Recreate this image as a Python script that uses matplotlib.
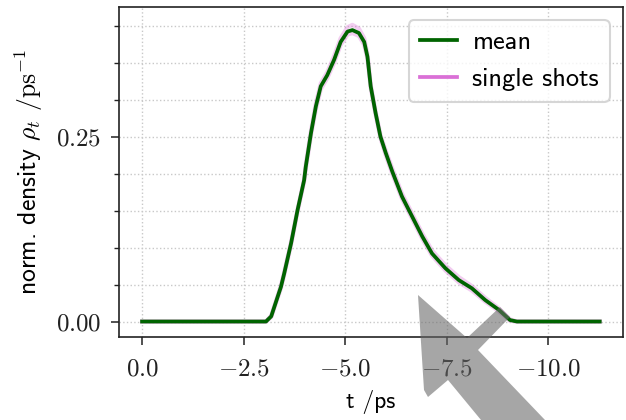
import matplotlib
matplotlib.use('Agg')
import matplotlib.pyplot as plt
from matplotlib.lines import Line2D
from matplotlib.patches import Polygon
from matplotlib.ticker import MultipleLocator, FormatStrFormatter

plt.rcParams['font.family'] = ['cmss10']
plt.rcParams['mathtext.fontset'] = 'cm'
plt.rcParams['axes.formatter.use_mathtext'] = True

# time axis (ps) and normalized density
t_ps = [0.0, -3.05, -3.18, -3.42, -3.50, -3.67, -3.83, -3.99, -4.03, -4.16,
        -4.28, -4.40, -4.56, -4.73, -4.89, -5.06, -5.18, -5.34, -5.47, -5.55,
        -5.63, -5.75, -5.87, -6.00, -6.16, -6.40, -6.65, -6.90, -7.14, -7.47,
        -7.80, -8.12, -8.45, -8.78, -9.06, -9.23, -11.27]
mean_rho = [0.0, 0.0, 0.007, 0.047, 0.065, 0.106, 0.151, 0.191, 0.209, 0.255,
            0.291, 0.318, 0.333, 0.354, 0.378, 0.392, 0.394, 0.390, 0.378, 0.358,
            0.318, 0.282, 0.250, 0.228, 0.203, 0.169, 0.142, 0.115, 0.092, 0.072,
            0.056, 0.045, 0.029, 0.016, 0.002, 0.0, 0.0]
shot_a = [0.0, 0.0, 0.008, 0.049, 0.067, 0.108, 0.152, 0.192, 0.212, 0.258,
          0.295, 0.322, 0.337, 0.359, 0.383, 0.398, 0.401, 0.396, 0.383, 0.361,
          0.320, 0.284, 0.252, 0.231, 0.207, 0.173, 0.146, 0.119, 0.096, 0.076,
          0.060, 0.048, 0.032, 0.018, 0.003, 0.0, 0.0]
shot_b = [0.0, 0.0, 0.006, 0.045, 0.063, 0.104, 0.149, 0.189, 0.206, 0.252,
          0.287, 0.314, 0.329, 0.350, 0.374, 0.388, 0.390, 0.386, 0.374, 0.355,
          0.316, 0.280, 0.248, 0.225, 0.200, 0.166, 0.139, 0.112, 0.089, 0.069,
          0.053, 0.042, 0.027, 0.014, 0.001, 0.0, 0.0]
shots = [shot_a, shot_b]

fig = plt.figure(figsize=(6.26, 4.2), dpi=100)
ax = fig.add_axes([0.190, 0.198, 0.805, 0.785])

for s in shots:
    ax.plot(t_ps, s, color='orchid', lw=3, alpha=0.35)
ax.plot(t_ps, mean_rho, color='darkgreen', lw=2.7)

ax.set_xlim(0.57, -11.84)
ax.set_ylim(-0.0207, 0.425)
ax.xaxis.set_major_locator(MultipleLocator(2.5))
ax.yaxis.set_major_locator(MultipleLocator(0.25))
ax.yaxis.set_minor_locator(MultipleLocator(0.05))
ax.xaxis.set_major_formatter(FormatStrFormatter(r'$%.1f$'))
ax.yaxis.set_major_formatter(FormatStrFormatter(r'$%.2f$'))
ax.grid(True, which='both', axis='y', ls=':', color='#c8c8c8', lw=1)
ax.grid(True, which='major', axis='x', ls=':', color='#c8c8c8', lw=1)
ax.set_axisbelow(True)

ax.tick_params(which='major', length=5.8, width=1.1, labelsize=18, colors='#222222', pad=7)
ax.tick_params(axis='x', which='major', pad=9)
ax.tick_params(which='minor', length=3.6, width=1.0, colors='#222222')
for sp in ax.spines.values():
    sp.set_linewidth(1.2)
    sp.set_color('#222222')

ax.set_xlabel('t /ps', fontsize=17, labelpad=7)
ax.set_ylabel(r'norm. density $\rho_t$ $/\mathrm{ps}^{-1}$', fontsize=18.5, labelpad=8)

handles = [Line2D([], [], color='darkgreen', lw=2.7),
           Line2D([], [], color='orchid', lw=2.7)]
leg = ax.legend(handles, ['mean', 'single shots'], loc='upper right', fontsize=19,
                handlelength=1.4, handletextpad=0.6, borderaxespad=0.5, fancybox=True)
leg.get_frame().set_linewidth(1.5)
leg.get_frame().set_edgecolor('#cccccc')

# grey pointer overlay (pixel coords of the 626x420 canvas)
arrow_px = [(418, 295), (467, 338), (500, 307), (510, 317), (478, 350),
            (545, 420), (481, 420), (448, 380), (428, 397), (424, 390)]
arrow = Polygon([(x / 626, 1 - y / 420) for x, y in arrow_px], closed=True,
                transform=fig.transFigure, facecolor='#676767', edgecolor='none',
                alpha=0.58, zorder=10)
fig.add_artist(arrow)

fig.savefig('out.png', dpi=100)
